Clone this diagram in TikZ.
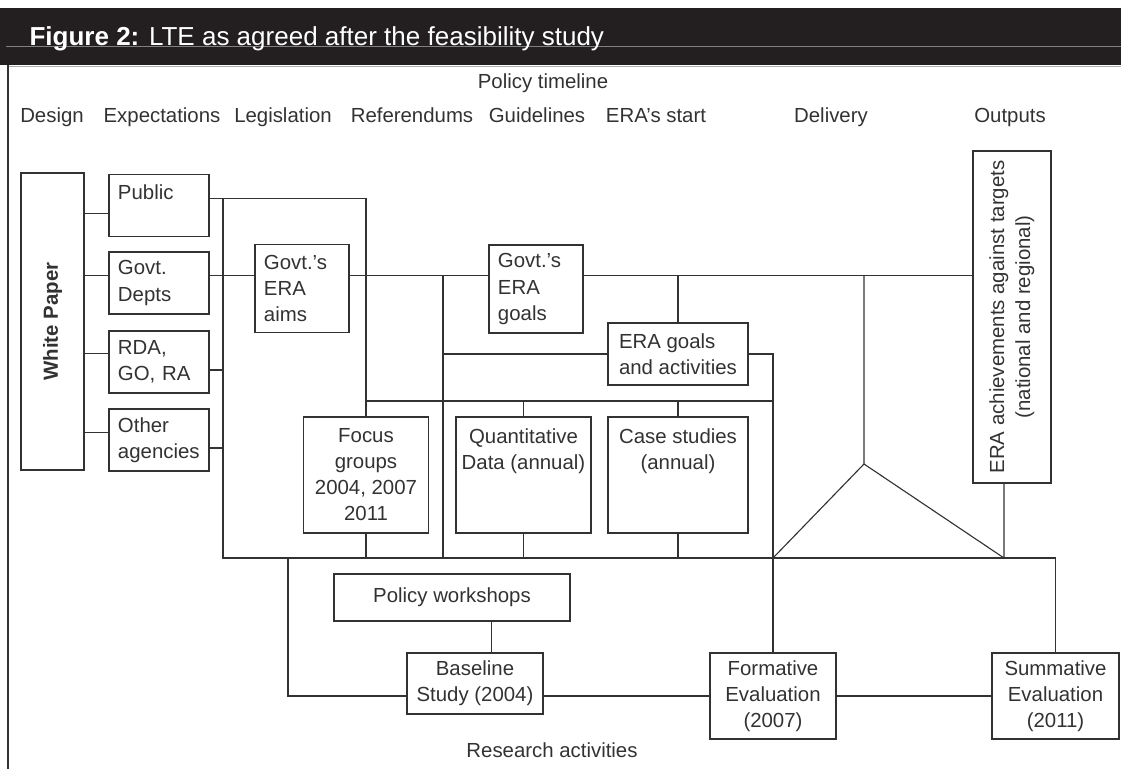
\documentclass[tikz,border=0pt]{standalone}
\usepackage{fontspec}
\setmainfont{Liberation Sans}
\usepackage{graphicx}
\usetikzlibrary{positioning,calc}
\definecolor{barBlack}{RGB}{35,31,32}
\definecolor{ink}{RGB}{50,50,50}
\newcommand{\lteTitleFont}{\fontsize{18.5}{22}\selectfont}
\newcommand{\lteHeadFont}{\fontsize{14.5}{18.5}\selectfont}
\newcommand{\lteBoxFont}{\fontsize{14.5}{18.5}\selectfont}

\begin{document}
\begin{tikzpicture}[
    x=0.025cm, y=-0.025cm,
    color=ink, line width=0.8pt,
    box/.style={draw, font=\lteBoxFont, inner sep=0pt, align=center},
    sidebox/.style={box, minimum width=2.5cm, minimum height=1.55cm, text width=2.05cm, align=left},
    aimbox/.style={box, minimum width=2.35cm, minimum height=2.2cm, text width=1.9cm, align=left},
    databox/.style={box, minimum height=2.9cm},
    evalbox/.style={box, minimum height=2.15cm},
    head/.style={font=\lteHeadFont, inner sep=0pt, anchor=base}
  ]
  \useasboundingbox (0,0) rectangle (1121,769);
  \fill[barBlack] (0,8) rectangle (1121,65);
  \draw[gray, line width=0.4pt] (6,46.5) -- (1121,46.5);
  \node[anchor=base west, inner sep=0pt, text=white, font=\lteTitleFont] (TT) at (29,45) {\textbf{Figure 2:} LTE as agreed after the feasibility study};
  \draw[ink!40, line width=0.6pt] (8,66) -- (1121,66);
  \draw (8,65) -- (8,769);

  \node[head] (PT) at (543,88) {Policy timeline};
  \node[head] (H1) at (52,122) {Design};
  \node[head] (H2) at (162,122) {Expectations};
  \node[head] (H3) at (283,122) {Legislation};
  \node[head] (H4) at (412,122) {Referendums};
  \node[head] (H5) at (537,122) {Guidelines};
  \node[head] (H6) at (656,122) {ERA’s start};
  \node[head] (H7) at (831,122) {Delivery};
  \node[head] (H8) at (1010,122) {Outputs};

  \node[box, minimum width=1.575cm, minimum height=7.425cm] (WP) at (52.5,321.5) {\rotatebox{90}{\textbf{White Paper}}};
  \node[sidebox] (PU) at (159,205.5) {Public\\~};
  \node[sidebox] (GD) at (159,283) {Govt.\\Depts};
  \node[sidebox] (RD) at (159,362) {RDA,\\GO, RA};
  \node[sidebox] (OA) at (159,440) {Other\\agencies};
  \node[aimbox] (GA) at (302,288.5) {Govt.’s\\ERA\\aims};
  \node[aimbox] (GG) at (536,289) {Govt.’s\\ERA\\goals};
  \node[box, minimum width=3.5cm, minimum height=1.55cm, align=left] (EG) at (678,354) {ERA goals\\and activities};
  \node[databox, minimum width=3.125cm] (FG) at (366,475) {Focus\\groups\\2004, 2007\\2011};
  \node[databox, minimum width=3.375cm] (QD) at (523.5,475) {Quantitative\\Data (annual)\\~\\~};
  \node[databox, minimum width=3.5cm] (CS) at (678,475) {Case studies\\(annual)\\~\\~};
  \node[box, minimum width=1.95cm, minimum height=8.3cm] (OUT) at (1012,317) {\rotatebox{90}{\begin{tabular}{@{}c@{}}ERA achievements against targets\\(national and regional)\end{tabular}}};
  \node[box, minimum width=5.9cm, minimum height=1.175cm] (PW) at (452,597.5) {Policy workshops};
  \node[box, minimum width=3.4cm, minimum height=1.525cm] (BS) at (475,683.5) {Baseline\\Study (2004)};
  \node[evalbox, minimum width=3.15cm] (FE) at (773,696) {Formative\\Evaluation\\(2007)};
  \node[evalbox, minimum width=3.175cm] (SE) at (1055.5,696) {Summative\\Evaluation\\(2011)};
  \node[head] (RA) at (552,757) {Research activities};

  \coordinate (bus) at (223,558);
  \coordinate (guide) at (443,558);
  \coordinate (row) at (0,401);
  \coordinate (apex) at (864,464);
  \coordinate (triR) at (1004,558);
  \coordinate (tap) at (288,558);

  \foreach \n/\a in {PU/189,GD/172,RD/170,OA/172}
    \draw (\n.\a) -- (\n.\a -| WP.east);
  \draw (PU.8) -| (FG.north);
  \draw (PU.8 -| bus) -- (bus) -| (SE.north);
  \draw (RD.351) -- (RD.351 -| bus);
  \draw (OA.351) -- (OA.351 -| bus);
  \draw (GD.8) -- (GD.8 -| GA.west);
  \draw (GD.8 -| GA.east) -- (GD.8 -| GG.west);
  \draw (GD.8 -| GG.east) -- (GD.8 -| OUT.west);
  \draw (GD.8 -| guide) -- (guide);
  \draw (EG.west) -- (EG.west -| guide);
  \draw (EG.north) -- (EG.north |- GD.8);
  \draw (EG.east) -| (FE.north);
  \draw (FG.north |- row) -- (FE.north |- row);
  \foreach \n in {QD,CS}
    \draw (\n.north) -- (\n.north |- row);
  \foreach \n in {FG,QD,CS}
    \draw (\n.south) -- (\n.south |- bus);
  \draw (apex |- GD.8) -- (apex) -- (FE.north |- bus);
  \draw (apex) -- (triR) -- (triR |- OUT.south);
  \draw (tap) |- (BS.west |- FE.west);
  \draw (BS.east |- FE.west) -- (FE.west);
  \draw (FE.east) -- (SE.west);
  \draw (BS.62) -- (BS.62 |- PW.south);
\end{tikzpicture}
\end{document}
